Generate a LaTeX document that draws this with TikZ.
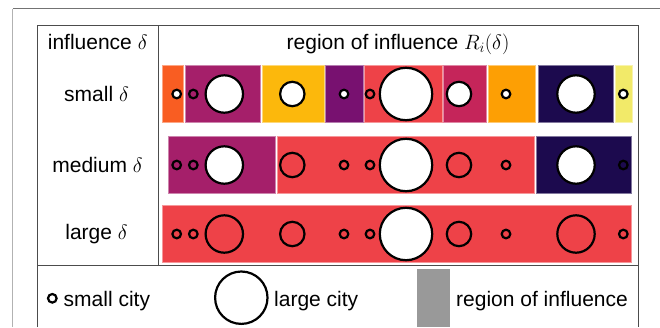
\documentclass[tikz,border=0pt]{standalone}
\usepackage{fontspec}
\setmainfont{Liberation Sans}
\begin{document}
\begin{tikzpicture}[x=1pt,y=-1pt,
  txt/.style={font=\fontsize{21}{25}\selectfont, inner sep=0pt},
  cty/.style={circle, draw=black, line width=2.2pt, inner sep=0pt},
  sc/.style={cty, minimum size=8.6pt},
  mc/.style={cty, minimum size=24.4pt},
  lc/.style={cty, minimum size=37.4pt},
  hc/.style={cty, minimum size=52.4pt},
  wf/.style={fill=white},
  blk/.style={fill=#1, draw=#1!55!white, line width=0.6pt},
  frame/.style={draw=black!70, line width=1pt}]
\definecolor{cOrA}{HTML}{F95D22}
\definecolor{cPur}{HTML}{A51F6A}
\definecolor{cYel}{HTML}{FCB80C}
\definecolor{cDpu}{HTML}{781170}
\definecolor{cRed}{HTML}{EE4248}
\definecolor{cMag}{HTML}{C5255A}
\definecolor{cOrB}{HTML}{FD9F04}
\definecolor{cNav}{HTML}{1C0A4E}
\definecolor{cLye}{HTML}{F2EA69}
\useasboundingbox (0,0) rectangle (660,327);
% outer frame
\draw[draw=black!55, line width=1pt] (660,8.7) -- (12.7,8.7);
\draw[draw=black!30, line width=1.4pt] (12.7,8.7) -- (12.7,327);
% table
\draw[frame] (37.3,327) -- (37.3,25.3) -- (638,25.3) -- (638,327);
\draw[frame] (158.3,25.3) -- (158.3,265.7);
\draw[frame] (37.3,265.7) -- (638,265.7);
% headers
\node[txt, anchor=base] (h1) at (97.7,49.3) {influence $\delta$};
\node[txt, anchor=base] (h2) at (398,49.6) {region of influence $R_i(\delta)$};
\node[txt, anchor=base] (r1) at (96.5,101.7) {small $\delta$};
\node[txt, anchor=base] (r2) at (97.5,172.3) {medium $\delta$};
\node[txt, anchor=base] (r3) at (96.5,239.3) {large $\delta$};
% row 1 blocks
\path[blk=cOrA] (162,65) rectangle (183.3,122.7);
\path[blk=cPur] (185.3,65) rectangle (260.7,122.7);
\path[blk=cYel] (262,65) rectangle (324.3,122.7);
\path[blk=cDpu] (325.5,65) rectangle (363.3,122.7);
\path[blk=cRed] (364.7,65) rectangle (442,122.7);
\path[blk=cMag] (443.3,65) rectangle (486.7,122.7);
\path[blk=cOrB] (487.9,65) rectangle (535,122.7);
\path[blk=cNav] (538.7,65) rectangle (613.7,122.7);
\path[blk=cLye] (615,65) rectangle (632.7,122.7);
% row 2 blocks
\path[blk=cPur] (168.5,136.3) rectangle (275.7,193.6);
\path[blk=cRed] (277,136.3) rectangle (534.7,193.6);
\path[blk=cNav] (536,136.3) rectangle (631.3,193.6);
% row 3 block
\path[blk=cRed] (162.3,205.7) rectangle (631,262);
% row 1 cities
\node[sc, wf] (a1) at (176.7,94) {};
\node[sc] (a2) at (193.3,94) {};
\node[lc, wf] (a3) at (224.3,94) {};
\node[mc, wf] (a4) at (292.3,94) {};
\node[sc, wf] (a5) at (344,94) {};
\node[sc] (a6) at (370,94) {};
\node[hc, wf] (a7) at (406,94) {};
\node[mc, wf] (a8) at (459,94) {};
\node[sc, wf] (a9) at (506,94) {};
\node[lc, wf] (a10) at (576,94) {};
\node[sc, wf] (a11) at (623.3,94) {};
% row 2 cities
\node[sc] (b1) at (176.7,165) {};
\node[sc] (b2) at (193.3,165) {};
\node[lc, wf] (b3) at (224.3,165) {};
\node[mc] (b4) at (292.3,165) {};
\node[sc] (b5) at (344,165) {};
\node[sc] (b6) at (370,165) {};
\node[hc, wf] (b7) at (406,165) {};
\node[mc] (b8) at (459,165) {};
\node[sc] (b9) at (506,165) {};
\node[lc, wf] (b10) at (576,165) {};
\node[sc] (b11) at (623.3,165) {};
% row 3 cities
\node[sc] (c1) at (176.7,234) {};
\node[sc] (c2) at (193.3,234) {};
\node[lc] (c3) at (224.3,234) {};
\node[mc] (c4) at (292.3,234) {};
\node[sc] (c5) at (344,234) {};
\node[sc] (c6) at (370,234) {};
\node[hc, wf] (c7) at (406,234) {};
\node[mc] (c8) at (459,234) {};
\node[sc] (c9) at (506,234) {};
\node[lc] (c10) at (576,234) {};
\node[sc] (c11) at (623.3,234) {};
% legend
\node[sc, wf] (ls) at (52.3,298.3) {};
\node[txt, anchor=base west] (lst) at (63.5,306.7) {small city};
\node[hc, wf] (ll) at (241.3,297.7) {};
\node[txt, anchor=base west] (llt) at (274,306.7) {large city};
\fill[black!40] (417.3,269.3) rectangle (450,327);
\node[txt, anchor=base west] (lrt) at (456,306.7) {region of influence};
\end{tikzpicture}
\end{document}
